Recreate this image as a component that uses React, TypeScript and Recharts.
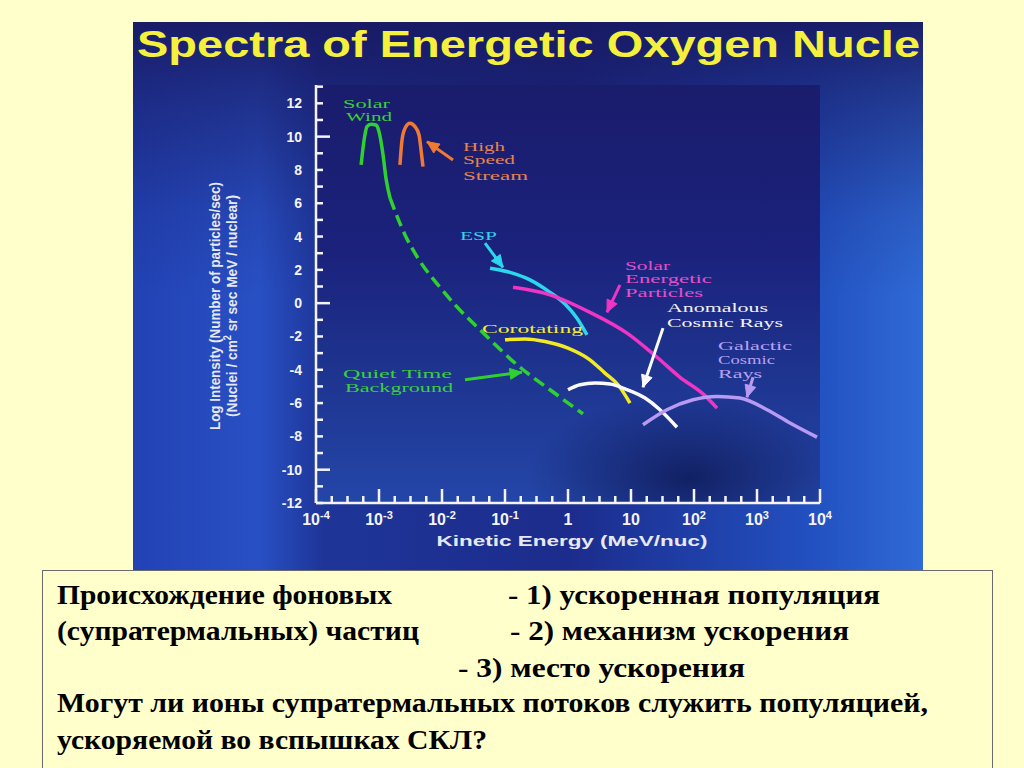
import React from 'react';
import { ComposedChart, Line, XAxis, YAxis } from 'recharts';

// ---------- data (energy in MeV/nuc, log10 intensity) ----------
const solarWindE = [5.2e-4, 5.8e-4, 6.45e-4, 7.46e-4, 8.95e-4, 1.0e-3, 1.16e-3, 1.29e-3, 1.5e-3];
const solarWindI = [8.3, 9.8, 10.6, 10.75, 10.7, 10.3, 8.9, 7.5, 6.3];

const quietE = [1.5e-3, 2.59e-3, 4.16e-3, 9.3e-3, 0.0161, 0.0401, 0.173, 0.518, 1.73];
const quietI = [6.3, 4.1, 2.7, 0.95, -0.1, -1.6, -3.85, -5.2, -6.65];

const hssE = [2.15e-3, 2.32e-3, 2.59e-3, 3.1e-3, 3.72e-3, 4.32e-3, 4.65e-3, 4.99e-3];
const hssI = [8.3, 9.8, 10.5, 10.8, 10.6, 10.1, 9.2, 8.2];

const espE = [0.0578, 0.12, 0.249, 0.518, 0.895, 1.39, 2.0];
const espI = [2.1, 1.85, 1.4, 0.65, -0.05, -0.9, -1.9];

const sepE = [0.134, 0.518, 2.23, 8.65, 25.9, 60, 139, 232];
const sepI = [0.95, 0.5, -0.55, -1.8, -3.25, -4.45, -5.45, -6.3];

const corE = [0.1, 0.207, 0.431, 1.0, 2.23, 3.86, 6.22, 9.64];
const corI = [-2.2, -2.15, -2.3, -2.7, -3.4, -4.2, -4.9, -6.0];

const acrE = [1.0, 1.55, 2.69, 4.65, 8.04, 16.7, 28.8, 53.7];
const acrI = [-5.2, -4.9, -4.8, -4.85, -5.15, -5.7, -6.4, -7.45];

const gcrE = [15.5, 37.2, 96.4, 232, 537, 1442, 3342, 8954];
const gcrI = [-7.3, -6.4, -5.8, -5.6, -5.7, -6.4, -7.2, -8.05];

// annotation arrows: [tail, head]
const arrowHssE = [0.01496, 5.78e-3];
const arrowHssI = [8.6, 9.7];
const arrowEspE = [0.0482, 0.0929];
const arrowEspI = [3.6, 2.15];
const arrowSepE = [6.68, 4.16];
const arrowSepI = [1.1, -0.55];
const arrowAcrE = [32.2, 15.5];
const arrowAcrI = [-1.5, -5.05];
const arrowGcrE = [865, 693];
const arrowGcrI = [-4.45, -5.65];
const arrowQtbE = [0.0232, 0.186];
const arrowQtbI = [-4.6, -4.15];

// axes
const xDecades = [1e-4, 1e-3, 1e-2, 1e-1, 1, 10, 100, 1000, 10000];
const xTickBase = ['10', '10', '10', '10', '1', '10', '10', '10', '10'];
const xTickExp = ['-4', '-3', '-2', '-1', '', '', '2', '3', '4'];
const yTickValues = [-12, -11, -10, -9, -8, -7, -6, -5, -4, -3, -2, -1, 0, 1, 2, 3, 4, 5, 6, 7, 8, 9, 10, 11, 12, 13];
const yLabelled = [-12, -10, -8, -6, -4, -2, 0, 2, 4, 6, 8, 10, 12];
const yLong = [-10, 0, 10];

const zip = (xs: number[], ys: number[]) => xs.map((x, i) => ({ x, y: ys[i] }));

const xTicks: number[] = [];
xDecades.forEach((d, i) => {
  xTicks.push(d);
  if (i < xDecades.length - 1) {
    [0.25, 0.5, 0.75].forEach((f) => xTicks.push(d * Math.pow(10, f)));
  }
});

const decadeIndex = (v: number) =>
  xDecades.findIndex((d) => Math.abs(Math.log10(d) - Math.log10(v)) < 1e-6);

const WHITE = '#f4f4f8';
const SANS = '"Liberation Sans", Arial, sans-serif';
const SERIF = '"Liberation Serif", "Times New Roman", serif';

const XTickBottom = (props: any) => {
  const { x, y, payload } = props;
  const idx = decadeIndex(payload.value);
  const len = idx >= 0 ? 14 : 7;
  return (
    <g>
      <line x1={x} y1={y} x2={x} y2={y - len} stroke={WHITE} strokeWidth={2.5} />
      {idx >= 0 && (
        <text x={x} y={y + 22} textAnchor="middle" fill={WHITE} fontFamily={SANS} fontWeight="bold" fontSize={16}>
          {xTickBase[idx]}
          {xTickExp[idx] && (
            <tspan dy={-6} fontSize={11}>
              {xTickExp[idx]}
            </tspan>
          )}
        </text>
      )}
    </g>
  );
};

const XTickTop = (props: any) => {
  const { x, y, payload } = props;
  const idx = decadeIndex(payload.value);
  const len = idx >= 0 ? 14 : 7;
  return <line x1={x} y1={y} x2={x} y2={y + len} stroke={WHITE} strokeWidth={2.5} />;
};

const YTickLeft = (props: any) => {
  const { x, y, payload } = props;
  const v = payload.value;
  const len = yLong.includes(v) ? 14 : 7;
  return (
    <g>
      <line x1={x} y1={y} x2={x + len} y2={y} stroke={WHITE} strokeWidth={2.5} />
      {yLabelled.includes(v) && (
        <text x={x - 14} y={y + 5} textAnchor="end" fill={WHITE} fontFamily={SANS} fontWeight="bold" fontSize={14}>
          {v}
        </text>
      )}
    </g>
  );
};

const YTickRight = (props: any) => {
  const { x, y, payload } = props;
  const len = yLong.includes(payload.value) ? 14 : 7;
  return <line x1={x} y1={y} x2={x - len} y2={y} stroke={WHITE} strokeWidth={2.5} />;
};

const arrowDot = (color: string) => (p: any) => {
  const { index, points, cx, cy } = p;
  if (!points || index !== points.length - 1 || index === 0) return <g key={`d${index}`} />;
  const prev = points[index - 1];
  const ang = Math.atan2(cy - prev.y, cx - prev.x);
  const L = 12;
  const W = 5.5;
  const bx = cx - L * Math.cos(ang);
  const by = cy - L * Math.sin(ang);
  const nx = -Math.sin(ang) * W;
  const ny = Math.cos(ang) * W;
  return (
    <polygon
      key={`d${index}`}
      points={`${cx},${cy} ${bx + nx},${by + ny} ${bx - nx},${by - ny}`}
      fill={color}
      stroke={color}
      strokeWidth={1}
    />
  );
};

const series = [
  { key: 'sw', data: zip(solarWindE, solarWindI), color: '#2fd02f', dash: undefined },
  { key: 'qt', data: zip(quietE, quietI), color: '#30d030', dash: '12 6' },
  { key: 'hss', data: zip(hssE, hssI), color: '#f07a34', dash: undefined },
  { key: 'esp', data: zip(espE, espI), color: '#2cd6ec', dash: undefined },
  { key: 'sep', data: zip(sepE, sepI), color: '#f034c4', dash: undefined },
  { key: 'cor', data: zip(corE, corI), color: '#f4ea22', dash: undefined },
  { key: 'acr', data: zip(acrE, acrI), color: '#fafafa', dash: undefined },
  { key: 'gcr', data: zip(gcrE, gcrI), color: '#b89af2', dash: undefined },
];

const arrows = [
  { key: 'a-hss', data: zip(arrowHssE, arrowHssI), color: '#f07a34' },
  { key: 'a-esp', data: zip(arrowEspE, arrowEspI), color: '#2cd6ec' },
  { key: 'a-sep', data: zip(arrowSepE, arrowSepI), color: '#f034c4' },
  { key: 'a-acr', data: zip(arrowAcrE, arrowAcrI), color: '#fafafa' },
  { key: 'a-gcr', data: zip(arrowGcrE, arrowGcrI), color: '#b89af2' },
  { key: 'a-qtb', data: zip(arrowQtbE, arrowQtbI), color: '#30d030' },
];

// annotation labels: text, colour, x, baseline y, width
const annotations: [string, string, number, number, number][] = [
  ['Solar', '#3ccf3c', 343, 108, 47],
  ['Wind', '#3ccf3c', 346, 121, 46],
  ['High', '#e8844a', 463, 151, 42],
  ['Speed', '#e8844a', 463, 164, 52],
  ['Stream', '#e8844a', 463, 180, 65],
  ['ESP', '#34d4ec', 460, 240, 37],
  ['Solar', '#e64ec8', 625, 270, 45],
  ['Energetic', '#e64ec8', 625, 283, 87],
  ['Particles', '#e64ec8', 625, 297, 78],
  ['Anomalous', '#f4f4f4', 667, 312, 101],
  ['Cosmic Rays', '#f4f4f4', 667, 327, 116],
  ['Galactic', '#b8a0f4', 718, 350, 74],
  ['Cosmic', '#b8a0f4', 718, 364, 57],
  ['Rays', '#b8a0f4', 718, 378, 44],
  ['Corotating', '#f4ea30', 482, 333, 101],
  ['Quiet Time', '#3ccf3c', 343, 378, 109],
  ['Background', '#3ccf3c', 345, 392, 108],
];

// slide text: text, x, baseline, width
const slideText: [string, number, number, number][] = [
  ['Происхождение фоновых', 57, 604, 335],
  ['- 1)  ускоренная популяция', 508, 604, 372],
  ['(супратермальных) частиц', 57, 640, 362],
  ['- 2)  механизм ускорения', 510, 640, 339],
  ['- 3)  место ускорения', 458, 677, 287],
  ['Могут ли ионы супратермальных потоков служить популяцией,', 57, 712, 871],
  ['ускоряемой во вспышках СКЛ?', 57, 749, 430],
];

const CH_LEFT = 133;
const CH_TOP = 22;
const CH_W = 790;
const CH_H = 548;
const M_TOP = 63;
const M_RIGHT = 103;
const Y_W = 183;
const X_H = 67;

export default function App() {
  return (
    <div
      style={{
        position: 'absolute',
        left: 0,
        top: 0,
        width: 1024,
        height: 768,
        background: '#ffffcc',
        overflow: 'hidden',
      }}
    >
      {/* chart picture background */}
      <div
        style={{
          position: 'absolute',
          left: CH_LEFT,
          top: CH_TOP,
          width: CH_W,
          height: CH_H,
          background:
            'linear-gradient(to bottom, rgba(24,24,96,0.92) 0%, rgba(24,24,96,0.6) 12%, rgba(24,24,96,0.15) 35%, rgba(24,24,96,0) 50%), linear-gradient(to right, #2242b4 0%, #2850c4 16%, #1e3598 24%, #1c2c8c 55%, #2250c0 86%, #2f6ad6 100%)',
        }}
      />
      {/* plot interior */}
      <div
        style={{
          position: 'absolute',
          left: CH_LEFT + Y_W,
          top: CH_TOP + M_TOP,
          width: CH_W - Y_W - M_RIGHT,
          height: CH_H - M_TOP - X_H,
          background:
            'radial-gradient(ellipse 32% 20% at 74% 94%, rgba(14,24,84,0.8) 0%, rgba(14,24,84,0) 100%), linear-gradient(to bottom, #1a1c6c 0%, #1b227c 40%, #1e3590 70%, #2446a8 100%)',
        }}
      />
      <div style={{ position: 'absolute', left: CH_LEFT, top: CH_TOP }}>
        <ComposedChart width={CH_W} height={CH_H} margin={{ top: M_TOP, right: M_RIGHT, bottom: 0, left: 0 }}>
          <XAxis
            xAxisId={0}
            dataKey="x"
            type="number"
            scale="log"
            domain={[1e-4, 1e4]}
            allowDataOverflow
            ticks={xTicks}
            interval={0}
            height={X_H}
            tickSize={0}
            tickMargin={0}
            tickLine={false}
            axisLine={{ stroke: WHITE, strokeWidth: 2.5 }}
            tick={XTickBottom}
          />
          <XAxis
            xAxisId="top"
            orientation="top"
            dataKey="x"
            type="number"
            scale="log"
            domain={[1e-4, 1e4]}
            allowDataOverflow
            ticks={xTicks}
            interval={0}
            height={0}
            tickSize={0}
            tickMargin={0}
            tickLine={false}
            axisLine={{ stroke: WHITE, strokeWidth: 2.5 }}
            tick={XTickTop}
          />
          <YAxis
            yAxisId={0}
            type="number"
            domain={[-12, 13.1]}
            allowDataOverflow
            ticks={yTickValues}
            interval={0}
            width={Y_W}
            tickSize={0}
            tickMargin={0}
            tickLine={false}
            axisLine={{ stroke: WHITE, strokeWidth: 2.5 }}
            tick={YTickLeft}
          />
          <YAxis
            yAxisId="right"
            orientation="right"
            type="number"
            domain={[-12, 13.1]}
            allowDataOverflow
            ticks={yTickValues}
            interval={0}
            width={0}
            tickSize={0}
            tickMargin={0}
            tickLine={false}
            axisLine={{ stroke: WHITE, strokeWidth: 2.5 }}
            tick={YTickRight}
          />
          {series.map((s) => (
            <Line
              key={s.key}
              xAxisId={0}
              yAxisId={0}
              data={s.data}
              dataKey="y"
              type="monotone"
              stroke={s.color}
              strokeWidth={3.5}
              strokeDasharray={s.dash}
              dot={false}
              activeDot={false}
              isAnimationActive={false}
            />
          ))}
          {arrows.map((a) => (
            <Line
              key={a.key}
              xAxisId={0}
              yAxisId={0}
              data={a.data}
              dataKey="y"
              type="linear"
              stroke={a.color}
              strokeWidth={3}
              dot={arrowDot(a.color)}
              activeDot={false}
              isAnimationActive={false}
            />
          ))}
        </ComposedChart>
      </div>
      {/* text overlay */}
      <svg width={1024} height={768} style={{ position: 'absolute', left: 0, top: 0, pointerEvents: 'none' }}>
        <text
          x={137}
          y={57}
          fill="#f4f03c"
          fontFamily={SANS}
          fontWeight="bold"
          fontSize={36}
          textLength={783}
          lengthAdjust="spacingAndGlyphs"
        >
          Spectra of Energetic Oxygen Nucle
        </text>
        <text
          x={572}
          y={546}
          fill="#e6e8f2"
          fontFamily={SANS}
          fontWeight="bold"
          fontSize={15}
          textAnchor="middle"
          textLength={271}
          lengthAdjust="spacingAndGlyphs"
        >
          Kinetic Energy (MeV/nuc)
        </text>
        <g transform="translate(220,306) rotate(-90)">
          <text
            x={0}
            y={0}
            fill="#e6e8f2"
            fontFamily={SANS}
            fontWeight="bold"
            fontSize={15}
            textAnchor="middle"
            textLength={248}
            lengthAdjust="spacingAndGlyphs"
          >
            Log Intensity (Number of particles/sec)
          </text>
          <text
            x={0}
            y={17}
            fill="#e6e8f2"
            fontFamily={SANS}
            fontWeight="bold"
            fontSize={15}
            textAnchor="middle"
            textLength={222}
            lengthAdjust="spacingAndGlyphs"
          >
            (Nuclei / cm<tspan dy={-6} fontSize={10}>2</tspan>
            <tspan dy={6}> sr sec MeV / nuclear)</tspan>
          </text>
        </g>
        {annotations.map(([t, c, x, y, w], i) => (
          <text
            key={i}
            x={x}
            y={y}
            fill={c}
            fontFamily={SERIF}
            fontSize={13}
            textLength={w}
            lengthAdjust="spacingAndGlyphs"
          >
            {t}
          </text>
        ))}
        <rect x={42.5} y={570.5} width={950} height={220} fill="none" stroke="#6a6a6a" strokeWidth={1} />
        {slideText.map(([t, x, y, w], i) => (
          <text
            key={i}
            x={x}
            y={y}
            fill="#000"
            fontFamily={SERIF}
            fontWeight="bold"
            fontSize={28}
            textLength={w}
            lengthAdjust="spacingAndGlyphs"
          >
            {t}
          </text>
        ))}
      </svg>
    </div>
  );
}
